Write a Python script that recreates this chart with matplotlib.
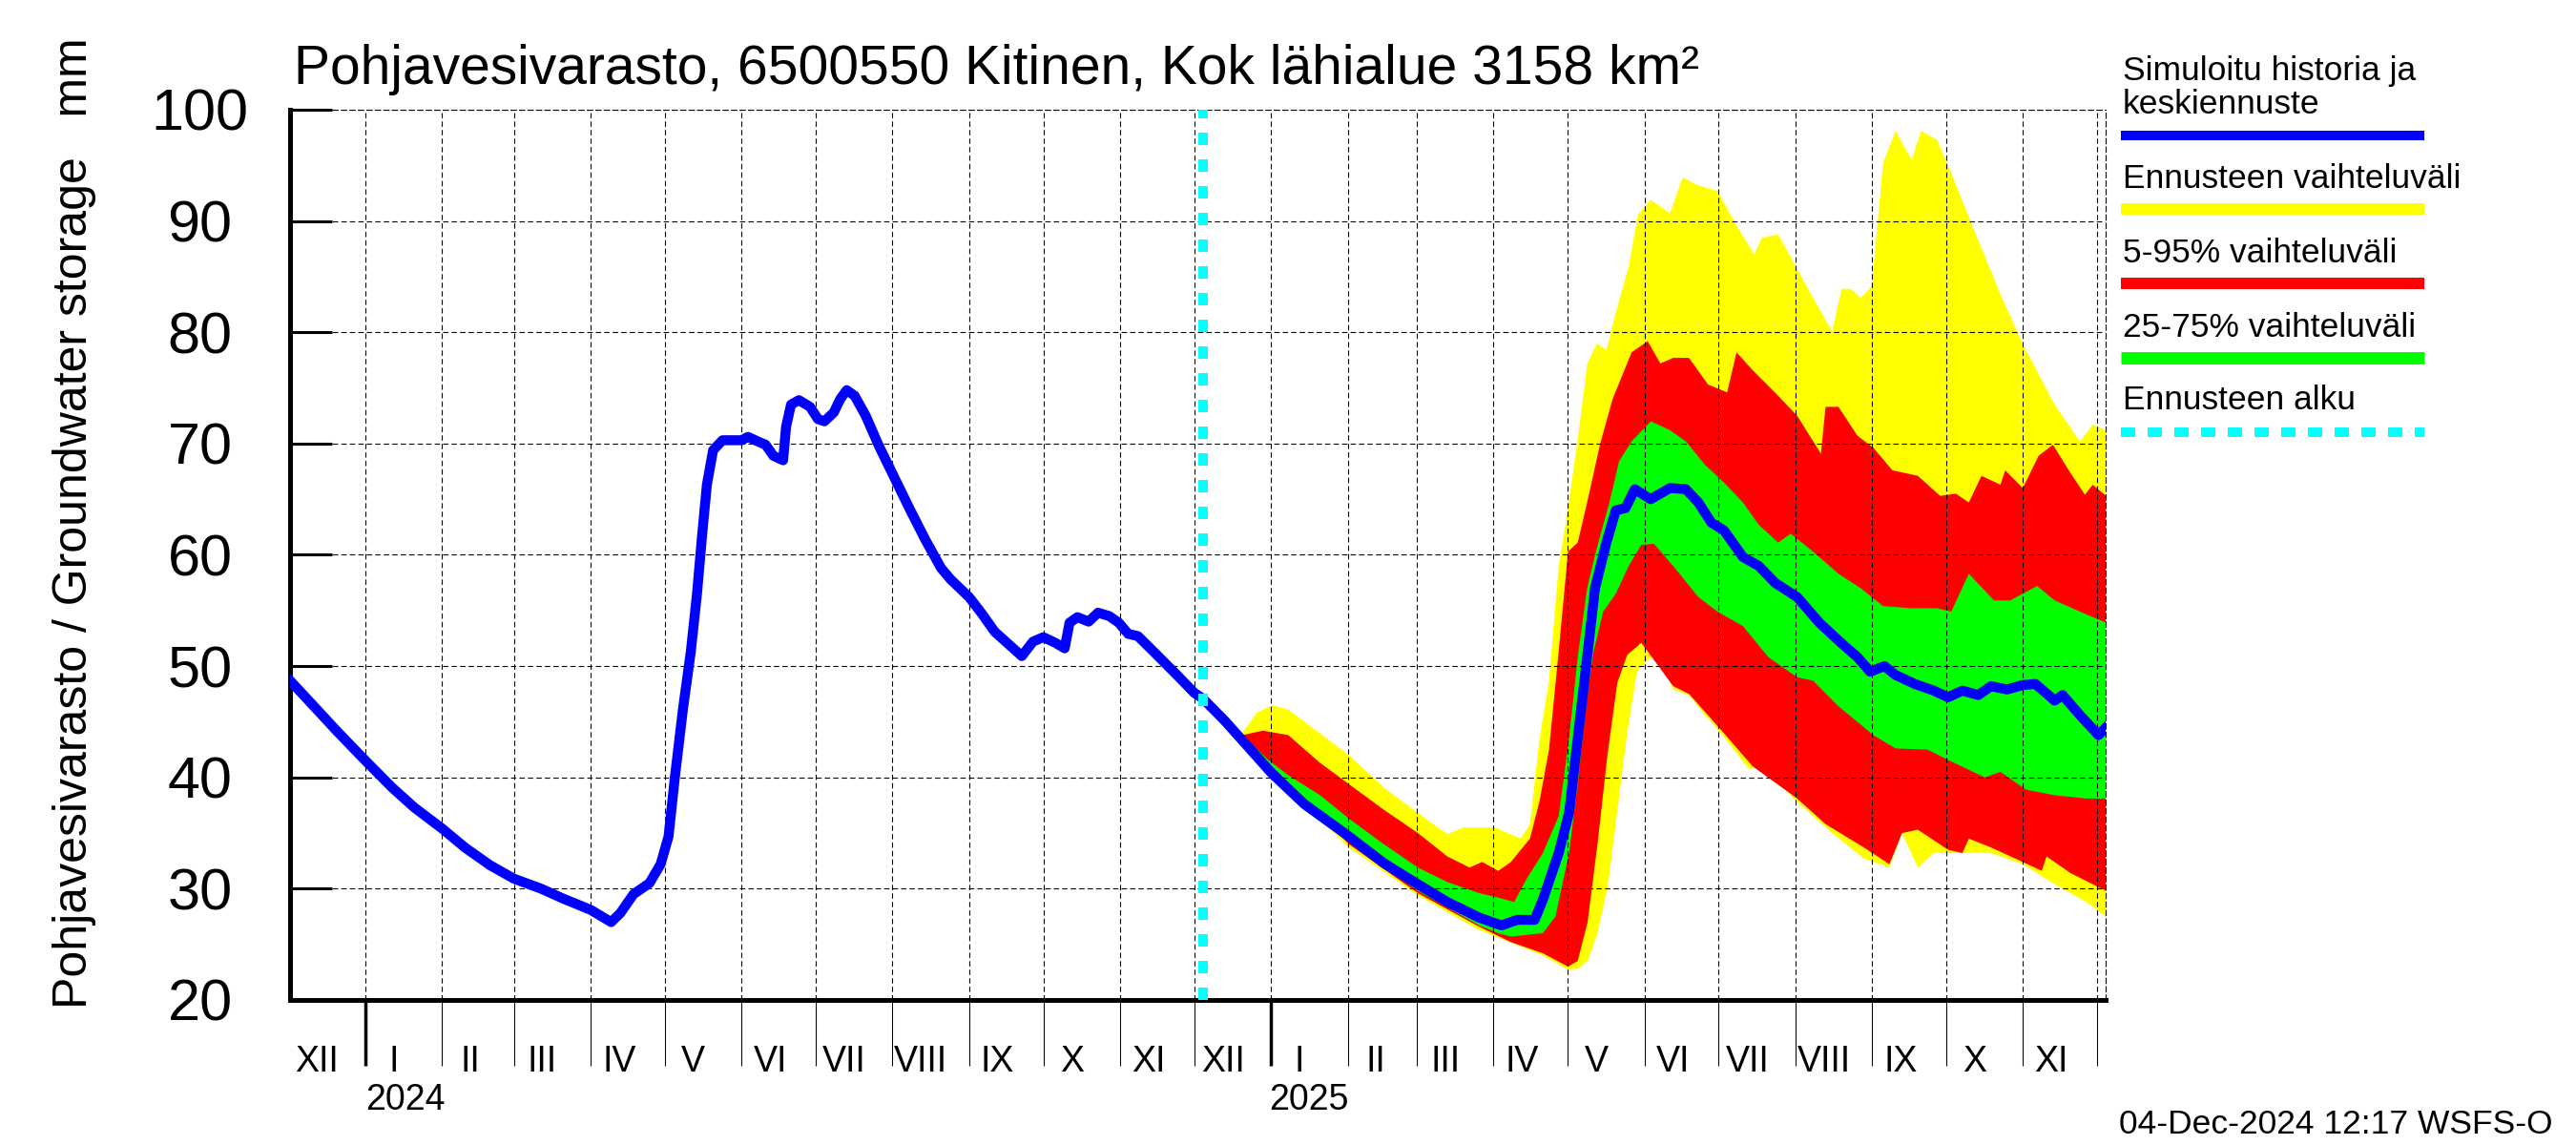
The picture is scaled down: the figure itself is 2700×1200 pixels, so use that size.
import matplotlib
matplotlib.use("Agg")
import matplotlib.pyplot as plt
import matplotlib.dates as mdates
import matplotlib.transforms as mtransforms
from matplotlib.lines import Line2D
import numpy as np
import pandas as pd

plt.rcParams['font.family'] = ['Liberation Sans', 'DejaVu Sans']
narrow = ['Liberation Sans Narrow', 'Liberation Sans', 'DejaVu Sans']

# päivät laskettu 1.1.2024 alkaen
hist_day = [-30.5, -18.8, -11.3, 0, 10.7, 19.7, 31, 40.2, 50.4, 60, 71, 80, 91, 99.3, 103,
            108.3, 114.8, 119.3, 122.5, 125, 128.3, 131.5, 134, 136, 138, 140.5, 144.3, 152,
            154.6, 158.5, 161.7, 164.9, 168.8, 170, 172, 175.2, 179.7, 182.9, 185.5, 189.3,
            191.9, 194.5, 197.7, 202.2, 207.3, 213, 219.8, 226.2, 232.7, 236.5, 244, 249.2,
            254.3, 260.8, 265.3, 269.8, 274, 278.8, 282.6, 284.6, 287.8, 292.3, 296.1, 300.6,
            304.5, 308.3, 312.2, 318.6, 328.9, 335, 338.4]
hist_val = [48.7, 45.9, 44.1, 41.5, 39.1, 37.3, 35.4, 33.7, 32.1, 30.9, 30.0, 29.1, 28.1, 27.0, 27.8,
            29.5, 30.5, 32.2, 34.7, 39.9, 46.1, 51.3, 56.5, 61.6, 66.3, 69.4, 70.3, 70.3,
            70.6, 70.2, 69.9, 68.9, 68.5, 71.5, 73.5, 73.9, 73.3, 72.2, 72.0, 72.8,
            74.0, 74.8, 74.3, 72.5, 69.9, 67.3, 64.2, 61.4, 58.8, 57.8, 56.2, 54.7,
            53.1, 51.8, 50.9, 52.2, 52.6, 52.1, 51.6, 53.9, 54.4, 54.0, 54.8, 54.5,
            53.9, 52.9, 52.7, 51.3, 49.0, 47.6, 47.1]

fc_day = [338.4, 347.3, 366.2, 379.5, 397.5, 411.6, 425.4, 437.3, 450.2, 459.1, 465.6, 472.6,
          475.9, 482.3, 486.5, 490, 493.8, 497, 501.6, 505.4, 509.3, 513.1, 519.5, 527.3, 533.7,
          538.8, 544, 549.1, 556.8, 563.2, 569.7, 578.7, 587.7, 595.4, 603.1, 608.2, 614, 618.5,
          626.2, 633.9, 639.7, 645.5, 651.9, 657.1, 663.5, 669.9, 675, 682.8, 686, 693, 700.5, 703.6]
fc_val = [47.1, 45.1, 40.4, 37.6, 34.7, 32.3, 30.4, 28.8, 27.4, 26.7, 27.2, 27.2,
          29.0, 33.2, 36.8, 43.5, 50.8, 57.0, 61.1, 64.0, 64.2, 65.9, 65.0, 66.0, 65.9,
          64.7, 62.9, 62.2, 59.8, 59.0, 57.5, 56.2, 53.9, 52.3, 50.8, 49.5, 50.0, 49.2,
          48.4, 47.8, 47.2, 47.8, 47.4, 48.2, 47.9, 48.3, 48.4, 46.9, 47.4, 45.6, 43.8, 44.5]

ymax_day = [353.8, 360.2, 366.6, 373, 382, 397.5, 411.6, 425.4, 437.3, 443.7, 456.6, 466.9, 470.7,
            474.6, 478.4, 482.3, 486.1, 490, 493.8, 497.7, 501.6, 505.4, 510.6, 514.4, 519.5,
            527.3, 532.4, 538.8, 546.5, 554.2, 561.3, 564.5, 571, 578.7, 586.4, 592.8, 596.7,
            600.5, 604.4, 608.9, 613.4, 618.5, 625, 628.8, 635.2, 639.7, 650.6, 660.9, 670.5,
            682.8, 693, 698.2, 703.6]
ymax_val = [43.8, 45.8, 46.5, 46.1, 44.6, 42.0, 39.1, 36.8, 34.9, 35.5, 35.5, 34.5, 35.8,
            43.5, 48.7, 59.0, 64.2, 70.4, 77.1, 79.0, 78.4, 81.8, 85.9, 90.6, 91.9,
            90.7, 93.9, 93.2, 92.7, 89.6, 87.0, 88.5, 88.8, 85.7, 82.6, 80.1, 83.9,
            83.9, 83.1, 84.1, 95.2, 98.1, 95.5, 98.1, 97.3, 95.0, 89.0, 83.4, 78.7,
            73.5, 70.2, 71.7, 71.2]

ymin_day = [353.8, 366, 397.5, 425.4, 450, 476, 486.1, 490, 494, 498, 502, 506, 510, 514,
            519.5, 523.4, 528.6, 535, 541.4, 547.8, 559.4, 564.5, 578.7, 592.8, 605.7, 616,
            621.1, 627.5, 634, 639.7, 657.1, 669.9, 682.8, 695.6, 703.6]
ymin_val = [43.5, 40.7, 33.7, 29.4, 26.3, 24.0, 22.7, 22.8, 23.5, 26.0, 30.0, 37.0, 44.0, 49.5,
            50.8, 50.5, 47.9, 47.4, 45.6, 44.0, 40.7, 41.2, 37.8, 35.0, 32.7, 31.9,
            35.0, 31.9, 33.2, 33.2, 33.2, 32.2, 30.4, 28.8, 27.5]

p95_day = [354.4, 362.8, 373, 385.9, 397.5, 411.6, 425.4, 437.3, 446.3, 451.4, 457.9, 463, 470.7,
           474.6, 478.4, 482.3, 486.1, 490, 493.8, 499, 504.1, 511.8, 518.3, 523.4, 528.6, 535,
           542.7, 550.4, 554.2, 560.7, 569.7, 578.7, 588.3, 590.2, 595.4, 603.1, 609.6, 617.2,
           627.5, 636.5, 642.9, 648.1, 653.2, 660.9, 662.8, 669.9, 676.3, 682.1, 687.9, 695,
           698.2, 703.6]
p95_val = [43.8, 44.2, 43.8, 41.3, 39.4, 37.1, 35.0, 32.9, 31.9, 32.4, 31.6, 32.4, 34.5,
           37.9, 42.5, 51.3, 60.3, 61.1, 64.7, 69.9, 74.0, 78.2, 79.2, 77.2, 77.7, 77.7,
           75.3, 74.6, 78.2, 76.6, 74.6, 72.5, 69.1, 73.3, 73.3, 70.7, 69.6, 67.6,
           67.1, 65.3, 65.5, 64.7, 67.1, 66.3, 67.6, 66.0, 68.9, 69.9, 67.8, 65.4,
           66.3, 65.3]

p5_day = [354.4, 366, 397.5, 425.4, 450, 463, 475.9, 486.1, 490, 494, 498, 502, 506, 510,
          515.7, 528.6, 535, 547.8, 560.7, 578.7, 590.2, 605.7, 616, 621.1, 627.5, 639.7,
          645.5, 648.1, 657.1, 669.9, 677.6, 679.5, 689.2, 703.6]
p5_val = [43.5, 41.0, 34.0, 29.6, 26.6, 25.2, 24.2, 23.0, 23.5, 27.0, 34.0, 42.0, 48.5, 51.0,
          52.1, 48.2, 47.5, 44.3, 41.0, 38.1, 35.8, 33.7, 32.2, 35.0, 35.3, 33.5,
          33.2, 34.5, 33.7, 32.4, 31.6, 32.9, 31.4, 29.8]

p75_day = [358, 365.3, 373, 385.9, 397.5, 411.6, 425.4, 437.3, 450.2, 457.9, 464.3, 469.4, 475.9,
           482.3, 486.5, 490, 493.8, 497.7, 502.8, 506.7, 511.8, 519.6, 527.3, 533.7, 541.4,
           549.1, 556.8, 563.2, 571, 576.1, 585.1, 595.4, 604.4, 613.4, 624.9, 635.2, 641,
           648.1, 658.3, 664.8, 675.7, 682.8, 693, 703.6]
p75_val = [43.0, 41.5, 40.2, 38.4, 36.3, 34.0, 31.9, 30.6, 29.6, 29.2, 28.8, 30.9, 33.2,
           36.5, 43.5, 50.8, 57.0, 60.6, 64.7, 68.4, 70.2, 72.0, 71.2, 70.2, 68.1,
           66.5, 64.7, 62.7, 61.1, 61.9, 60.3, 58.3, 57.0, 55.4, 55.2, 55.2, 54.9,
           58.3, 55.9, 55.9, 57.2, 55.9, 54.9, 53.9]

p25_day = [358, 397.5, 425.4, 450.2, 457.9, 463, 475.9, 481, 486.5, 490, 493.8, 496.4, 500.3,
           505.4, 510.6, 515.7, 520.8, 528.6, 538.8, 546.5, 556.8, 567.1, 578.7, 585.1, 595.4,
           609.5, 618.5, 631.4, 640.4, 654.5, 660.9, 671.2, 682.8, 695.6, 703.6]
p25_val = [42.8, 34.2, 29.8, 26.7, 26.0, 25.7, 26.0, 27.5, 33.2, 39.4, 47.2, 51.3, 54.9,
           56.5, 59.0, 60.9, 61.0, 59.0, 56.2, 54.9, 53.6, 50.8, 49.0, 48.7, 46.4,
           43.8, 42.6, 42.5, 41.5, 40.0, 40.5, 38.9, 38.4, 38.1, 38.1]

forecast_start = 338.4
months = pd.date_range('2024-01-01', '2025-12-01', freq='MS')
label_months = pd.date_range('2023-12-01', '2025-11-01', freq='MS')
roman = ['I', 'II', 'III', 'IV', 'V', 'VI', 'VII', 'VIII', 'IX', 'X', 'XI', 'XII']
years = [('2024', 16), ('2025', 381.5)]

base = mdates.date2num(pd.Timestamp('2024-01-01'))


def d(days):
    return base + np.asarray(days, dtype=float)


def band(ax, up_d, up_v, lo_d, lo_v, col):
    xs = np.concatenate([d(up_d), d(lo_d)[::-1]])
    ys = np.concatenate([up_v, lo_v[::-1]])
    ax.fill(xs, ys, color=col, lw=0, zorder=1)


fig = plt.figure(figsize=(27, 12), dpi=100)
ax = fig.add_axes([304 / 2700, 1 - 1048 / 1200, 1903 / 2700, 933 / 1200])

band(ax, ymax_day, ymax_val, ymin_day, ymin_val, '#ffff00')
band(ax, p95_day, p95_val, p5_day, p5_val, '#ff0000')
band(ax, p75_day, p75_val, p25_day, p25_val, '#00ff00')

ax.plot(d(hist_day + fc_day), hist_val + fc_val, color='#0000ff', lw=7.5, zorder=4)
ax.axvline(d(forecast_start), color='#00ffff', lw=7.2, linestyle=(0, (1.3, 1.5)), zorder=5)

# kuukausien rajat ja nimet
month_num = mdates.date2num(months)
ax.set_xticks(month_num)
ax.set_xticklabels([''] * len(month_num))
ax.set_xticks(mdates.date2num(label_months) + 11.5, minor=True)
ax.set_xticklabels([roman[m.month - 1] for m in label_months], minor=True, family=narrow)
ax.tick_params(axis='x', which='major', direction='out', length=50, width=0.75, color='black')
ax.tick_params(axis='x', which='minor', length=0, pad=34, labelsize=27)
for tick, m in zip(ax.xaxis.get_major_ticks(), months):
    if m.month == 1:
        tick.tick1line.set_markeredgewidth(2.5)

ax.set_yticks(range(20, 101, 10))
ax.tick_params(axis='y', direction='in', length=32, width=2.2, pad=68, labelsize=44)
for lbl in ax.get_yticklabels():
    lbl.set_horizontalalignment('center')
    lbl.set_family(narrow)

ax.set_xlim(d(-30.5), d(703.4))
ax.set_ylim(20, 100)

ax.grid(True, which='major', color='black', linestyle=(0, (5, 3)), linewidth=0.8)

for s in ['left', 'bottom']:
    ax.spines[s].set_linewidth(3.6)
for s in ['top', 'right']:
    ax.spines[s].set_linewidth(0.8)
    ax.spines[s].set_linestyle((0, (5, 3)))

trans = mtransforms.blended_transform_factory(ax.transData, ax.transAxes)
for name, day in years:
    ax.text(d(day), -0.1125, name, transform=trans, ha='center', va='center',
            fontsize=27, family=narrow)

fig.text(308 / 2700, 1 - 88 / 1200, 'Pohjavesivarasto, 6500550 Kitinen, Kok lähialue 3158 km²',
         fontsize=41, ha='left', va='baseline')
fig.text(78 / 2700, 1 - 548 / 1200, 'Pohjavesivarasto / Groundwater storage   mm',
         rotation=90, ha='center', va='center', fontsize=36, family=narrow)

# selite
lx0, lx1, tx = 2223 / 2700, 2541 / 2700, 2225 / 2700
texts = [('Simuloitu historia ja', 84), ('keskiennuste', 119), ('Ennusteen vaihteluväli', 197),
         ('5-95% vaihteluväli', 275), ('25-75% vaihteluväli', 353), ('Ennusteen alku', 429)]
for t, yb in texts:
    fig.text(tx, 1 - yb / 1200, t, fontsize=25.5, va='baseline', ha='left')
leg_lines = [('#0000ff', 142, 7.2, '-'), ('#ffff00', 219, 8.6, '-'), ('#ff0000', 297, 8.6, '-'),
             ('#00ff00', 375, 9.3, '-'), ('#00ffff', 453, 7.2, (0, (1.5, 1.3)))]
for col, yl, lw, ls in leg_lines:
    fig.add_artist(Line2D([lx0, lx1], [1 - yl / 1200] * 2, color=col, lw=lw, linestyle=ls,
                          solid_capstyle='butt', dash_capstyle='butt', transform=fig.transFigure))

fig.text(2221 / 2700, 1 - 1188 / 1200, '04-Dec-2024 12:17 WSFS-O', fontsize=25.5,
         ha='left', va='baseline')

fig.savefig('out.png', dpi=100)
